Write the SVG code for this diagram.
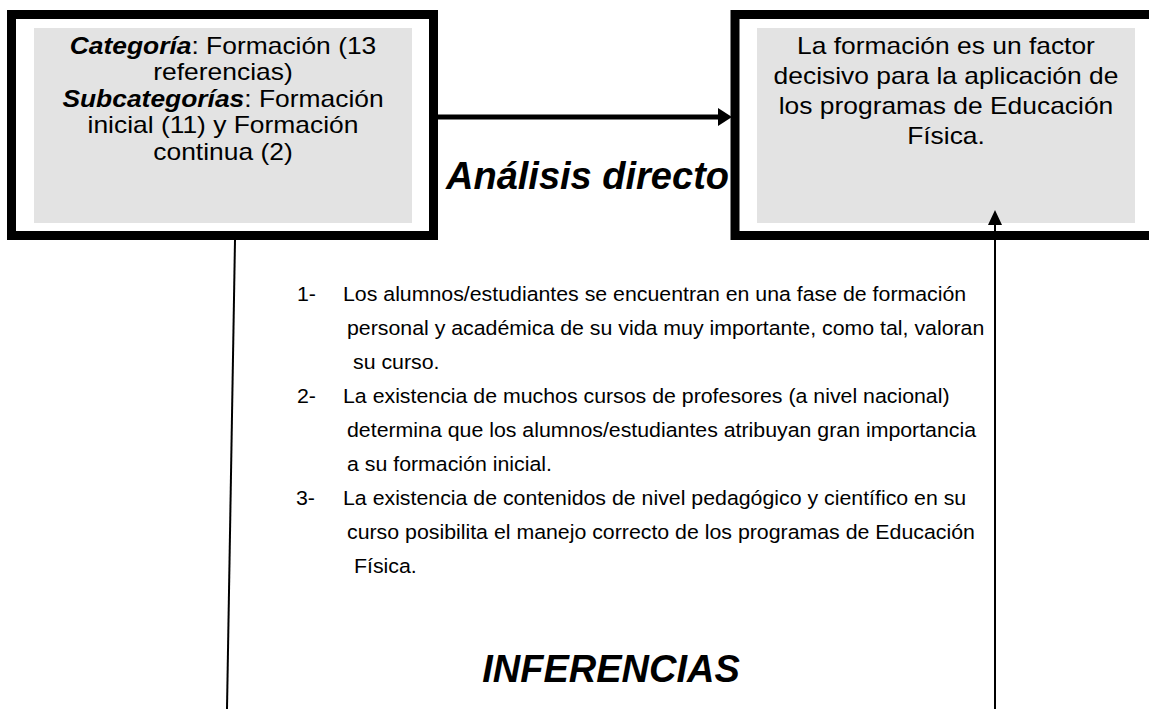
<svg xmlns="http://www.w3.org/2000/svg" width="1149" height="709" viewBox="0 0 1149 709">
<style>
.box{fill:#ffffff;stroke:#000000;stroke-width:9}
.inner{fill:#e3e3e3;stroke:none}
.bt{font-family:"Liberation Sans",Arial,sans-serif;font-size:23px;fill:#000;text-anchor:middle}
.bi{font-weight:bold;font-style:italic}
.lt{font-family:"Liberation Sans",Arial,sans-serif;font-size:20.5px;fill:#000}
.hd{font-family:"Liberation Sans",Arial,sans-serif;font-size:38px;font-weight:bold;font-style:italic;fill:#000}
.ln{stroke:#000;fill:none}
</style>
<rect x="0" y="0" width="1149" height="709" fill="#ffffff"/>
<g id="node-categoria">
<rect class="box" x="11.5" y="14.5" width="422" height="221"/>
<rect class="inner" x="34" y="28" width="378" height="195"/>
<g transform="translate(223,0) scale(1.148,1)">
<text class="bt" x="0" y="54"><tspan class="bi">Categoría</tspan>: Formación (13</text>
<text class="bt" x="0" y="80.5">referencias)</text>
<text class="bt" x="0" y="107"><tspan class="bi">Subcategorías</tspan>: Formación</text>
<text class="bt" x="0" y="133.5">inicial (11) y Formación</text>
<text class="bt" x="0" y="160">continua (2)</text>
</g>
</g>
<g id="node-conclusion">
<rect class="box" x="735" y="14.5" width="450" height="221"/>
<rect class="inner" x="757" y="28" width="378" height="195"/>
<g transform="translate(946,0) scale(1.148,1)">
<text class="bt" x="0" y="54">La formación es un factor</text>
<text class="bt" x="0" y="84">decisivo para la aplicación de</text>
<text class="bt" x="0" y="114">los programas de Educación</text>
<text class="bt" x="0" y="144">Física.</text>
</g>
</g>
<g id="connectors">
<line class="ln" x1="438" y1="117" x2="720" y2="117" stroke-width="5"/>
<polygon points="718,108 732,117 718,126" fill="#000"/>
<line class="ln" x1="235" y1="240" x2="227" y2="709" stroke-width="2"/>
<line class="ln" x1="995" y1="709" x2="995" y2="222" stroke-width="2"/>
<polygon points="995,210 988,225 1002,225" fill="#000"/>
<text class="hd" x="729" y="189" text-anchor="end">Análisis directo</text>
</g>
<g id="inferencias">
<text class="lt" transform="translate(297,301) scale(1.04,1)">1-</text>
<text class="lt" transform="translate(343,301) scale(1.04,1)">Los alumnos/estudiantes se encuentran en una fase de formación</text>
<text class="lt" transform="translate(347,335) scale(1.04,1)">personal y académica de su vida muy importante, como tal, valoran</text>
<text class="lt" transform="translate(353,369) scale(1.04,1)">su curso.</text>
<text class="lt" transform="translate(297,403) scale(1.04,1)">2-</text>
<text class="lt" transform="translate(343,403) scale(1.04,1)">La existencia de muchos cursos de profesores (a nivel nacional)</text>
<text class="lt" transform="translate(347,437) scale(1.04,1)">determina que los alumnos/estudiantes atribuyan gran importancia</text>
<text class="lt" transform="translate(347,471) scale(1.04,1)">a su formación inicial.</text>
<text class="lt" transform="translate(296,505) scale(1.04,1)">3-</text>
<text class="lt" transform="translate(343,505) scale(1.04,1)">La existencia de contenidos de nivel pedagógico y científico en su</text>
<text class="lt" transform="translate(347,539) scale(1.04,1)">curso posibilita el manejo correcto de los programas de Educación</text>
<text class="lt" transform="translate(354,573) scale(1.04,1)">Física.</text>
<text class="hd" x="611" y="682" text-anchor="middle">INFERENCIAS</text>
</g>
</svg>
